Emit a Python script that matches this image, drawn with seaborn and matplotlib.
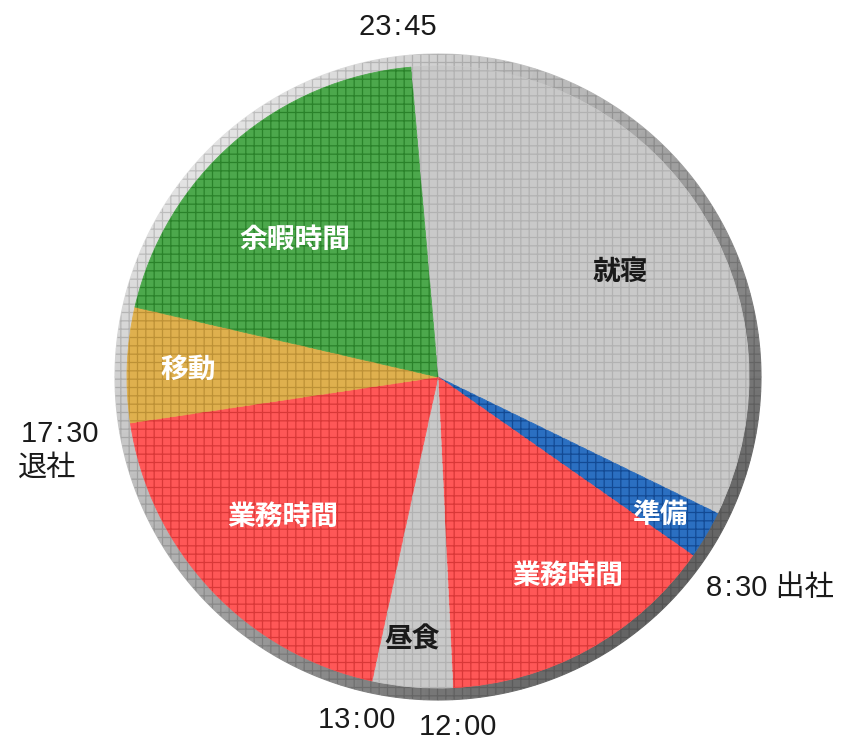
import numpy as np
import matplotlib
matplotlib.use("Agg")
import matplotlib.pyplot as plt
import seaborn as sns

# ---- data (minutes per activity, clockwise from 23:45) ----
activities = ["就寝", "準備", "業務時間", "昼食", "業務時間", "移動", "余暇時間"]
minutes = [484, 36, 209, 60, 277, 86, 288]
time_labels = ["23\u200a:\u200a45", "8\u200a:\u200a30 出社", "12\u200a:\u200a00",
               "13\u200a:\u200a00", "17\u200a:\u200a30", "退社"]

sns.set_theme(style="white")
plt.rcParams['font.family'] = ['Noto Sans CJK JP', 'DejaVu Sans']
plt.rcParams['hatch.linewidth'] = 0.9

fill_colors = ["#c9c9c9", "#2b6fc1", "#ff5757", "#c9c9c9", "#ff5757", "#dfb04e", "#4ca84c"]
grid_colors = ["#b2b2b2", "#134a94", "#d93838", "#b2b2b2", "#d93838", "#bd9136", "#2a822a"]
text_colors = ["#1a1a1a", "white", "white", "#1a1a1a", "white", "white", "white"]

W, H = 852, 750
# label centres in figure pixels (from top-left)
label_pos = [(620, 272), (660, 515), (568, 576), (412, 640), (283, 517), (188, 370), (295, 240)]

fig = plt.figure(figsize=(W / 100, H / 100), dpi=100)
ax = fig.add_axes([0, 0, 1, 1])
cx, cy, R = 438, H - 377, 311
start = 95

# ---- shaded rim behind the pie ----
n = 144
rim = np.ones(n)
mid_angles = start - (np.arange(n) + 0.5) * 360 / n
shade = 0.64 + 0.25 * np.cos(np.deg2rad(mid_angles - 135))
shade = np.clip(shade, 0, 1)
rim_colors = [(s, s, s) for s in shade]
rw, _ = ax.pie(rim, radius=R + 12, center=(cx, cy), startangle=start,
               counterclock=False, colors=rim_colors,
               wedgeprops=dict(width=22, linewidth=0.8))
for w in rw:
    w.set_edgecolor(w.get_facecolor())
ax.pie([1], radius=R + 12, center=(cx, cy), startangle=start,
       wedgeprops=dict(width=22, facecolor='none', edgecolor=(0, 0, 0, 0.16),
                       linewidth=0, hatch='++'))

# ---- main pie ----
wedges, _ = ax.pie(minutes, radius=R, center=(cx, cy), startangle=start,
                   counterclock=False, colors=fill_colors,
                   wedgeprops=dict(linewidth=0.6))
for w in wedges:
    w.set_edgecolor(w.get_facecolor())
hw, _ = ax.pie(minutes, radius=R, center=(cx, cy), startangle=start,
               counterclock=False,
               wedgeprops=dict(facecolor='none', linewidth=0, hatch='++'))
for w, gc in zip(hw, grid_colors):
    w.set_edgecolor(gc)
    w.set_linewidth(0)

for (px, py), lab, tc in zip(label_pos, activities, text_colors):
    ax.text(px, H - py, lab, ha='center', va='center', fontsize=20,
            fontweight='bold', color=tc)

# ---- time annotations ----
tk = dict(fontsize=21, color='#1a1a1a', va='center',
          family=['Liberation Sans', 'Noto Sans CJK JP', 'DejaVu Sans'])
ax.text(398, H - 27, time_labels[0], ha='center', **tk)
ax.text(706, H - 588, time_labels[1], ha='left', **tk)
ax.text(458, H - 727, time_labels[2], ha='center', **tk)
ax.text(357, H - 720, time_labels[3], ha='center', **tk)
ax.text(21, H - 434, time_labels[4], ha='left', **tk)
ax.text(18, H - 468, time_labels[5], ha='left', **tk)

ax.set_xlim(0, W)
ax.set_ylim(0, H)
ax.set_aspect('auto')
ax.axis('off')
fig.savefig("out.png", dpi=100)
